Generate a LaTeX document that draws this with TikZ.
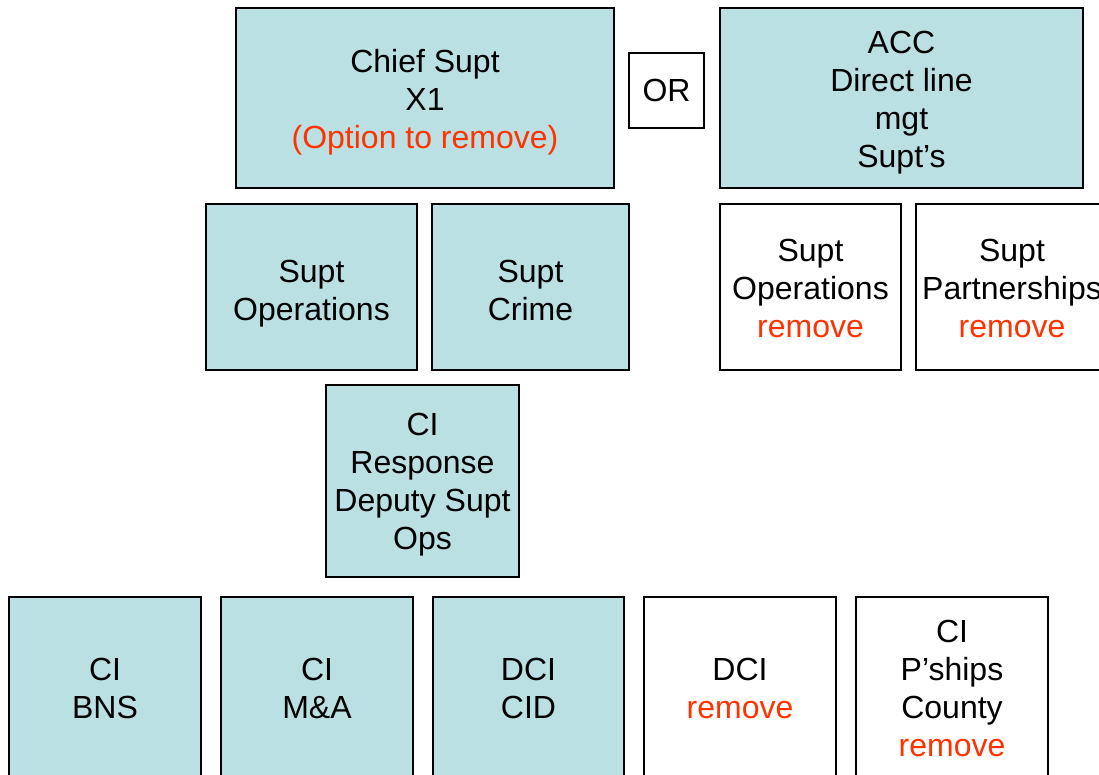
\documentclass[tikz,border=0pt]{standalone}
\usepackage{fontspec}
\setmainfont{Liberation Sans}
\definecolor{teal}{HTML}{BBE0E3}
\definecolor{cut}{HTML}{FF3300}
% centred lines of a box, set a little lower than the box centre
\newcommand\boxlines[2][4pt]{%
  \raisebox{-#1}[\height][\depth]{\begin{tabular}{@{}c@{}}#2\end{tabular}}}
\begin{document}
\begin{tikzpicture}[x=1pt,y=-1pt,
  every node/.style={font=\fontsize{32}{38}\selectfont, inner sep=0pt},
  post/.style={draw=black, line width=1.6pt, fill=teal},
  gone/.style={draw=black, line width=1.6pt, fill=white}]
\useasboundingbox (0,0) rectangle (1099,774);
\clip (0,0) rectangle (1099,774);
% top row
\node[post, minimum width=378pt, minimum height=180pt] (chief) at (425,98)
  {\boxlines[5pt]{Chief Supt\\X1\\\textcolor{cut}{(Option to remove)}}};
\node[gone, minimum width=75pt, minimum height=75pt] (or) at (666.5,90.5) {\boxlines[3pt]{OR}};
\node[post, minimum width=363pt, minimum height=180pt] (acc) at (901.5,98)
  {\boxlines[5pt]{ACC\\Direct line\\mgt\\Supt’s}};
% second row
\node[post, minimum width=211pt, minimum height=166pt] (sops) at (311.5,287)
  {\boxlines[7pt]{Supt\\Operations}};
\node[post, minimum width=197pt, minimum height=166pt] (scrime) at (530.5,287)
  {\boxlines[7pt]{Supt\\Crime}};
\node[gone, minimum width=181pt, minimum height=166pt] (sops2) at (810.5,287)
  {\boxlines[5pt]{Supt\\Operations\\\textcolor{cut}{remove}}};
\node[gone, minimum width=192pt, minimum height=166pt] (sparts) at (1012,287)
  {\boxlines[5pt]{Supt\\Partnerships\\\textcolor{cut}{remove}}};
% third row
\node[post, minimum width=193pt, minimum height=192pt] (resp) at (422.5,481)
  {\boxlines[4pt]{CI\\Response\\Deputy Supt\\Ops}};
% bottom row
\node[post, minimum width=192pt, minimum height=184pt] (bns) at (105,689)
  {\boxlines[3pt]{CI\\BNS}};
\node[post, minimum width=192pt, minimum height=184pt] (ma) at (317,689)
  {\boxlines[3pt]{CI\\M\&A}};
\node[post, minimum width=191pt, minimum height=184pt] (cid) at (528.5,689)
  {\boxlines[3pt]{DCI\\CID}};
\node[gone, minimum width=192pt, minimum height=184pt] (dci) at (740,689)
  {\boxlines[3pt]{DCI\\\textcolor{cut}{remove}}};
\node[gone, minimum width=192pt, minimum height=184pt] (pships) at (952,689)
  {\boxlines[3pt]{CI\\P’ships\\County\\\textcolor{cut}{remove}}};
\end{tikzpicture}
\end{document}
